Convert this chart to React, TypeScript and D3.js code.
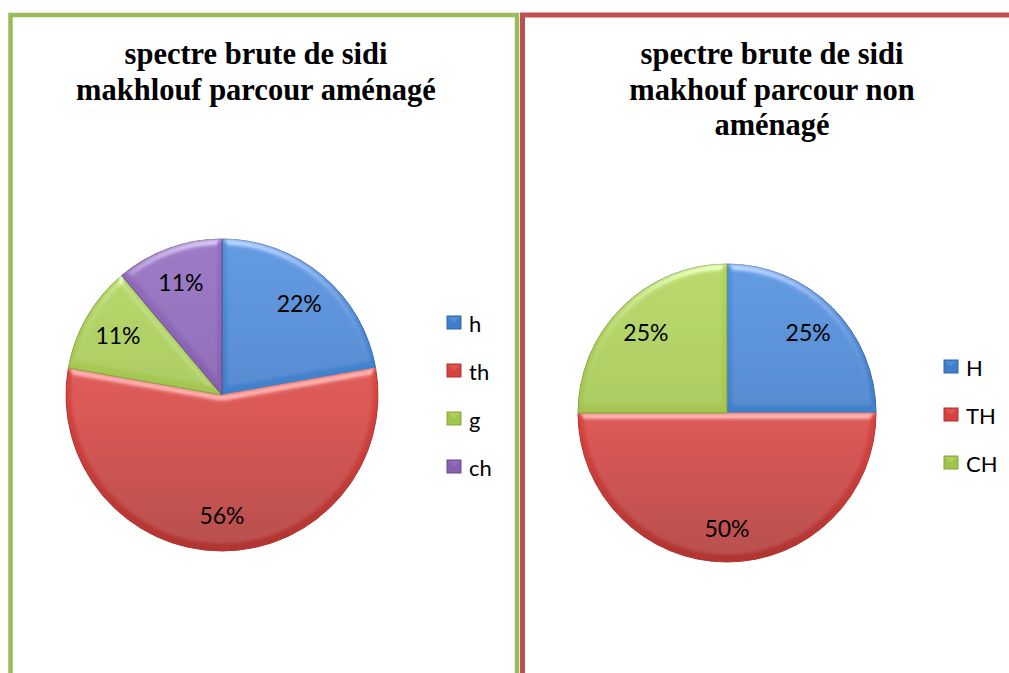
import React from 'react';
import * as d3 from 'd3';

// left chart: "parcour aménagé"
const leftTitle = ['spectre brute de sidi', 'makhlouf parcour aménagé'];
const leftCategories = ['h', 'th', 'g', 'ch'];
const leftValues = [2, 5, 1, 1];

// right chart: "parcour non aménagé"
const rightTitle = ['spectre brute de sidi', 'makhouf parcour non', 'aménagé'];
const rightCategories = ['H', 'TH', 'CH'];
const rightValues = [1, 2, 1];

// office 2007 palette (light / base / dark)
const palette = {
  blue: ['#5092dc', '#3f7ec8', '#3466a6'],
  red: ['#e25754', '#d4433f', '#b03432'],
  green: ['#b2d45e', '#a2c44f', '#86a63e'],
  purple: ['#946ec0', '#8460ae', '#6a4c90'],
};
const leftColors = ['blue', 'red', 'green', 'purple'];
const rightColors = ['blue', 'red', 'green'];

const titleFont = '"Liberation Serif", "Times New Roman", serif';
const bodyFont = 'Lato, "Open Sans", sans-serif';

type PieProps = {
  id: string;
  cx: number;
  cy: number;
  r: number;
  values: number[];
  colors: string[];
};

const Pie = ({ id, cx, cy, r, values, colors }: PieProps) => {
  const total = d3.sum(values);
  const arcs = d3.pie<number>().sort(null).value((d) => d)(values);
  const arc = d3.arc<d3.PieArcDatum<number>>().innerRadius(0).outerRadius(r);
  const labelArc = d3.arc<d3.PieArcDatum<number>>().innerRadius(r * 0.77).outerRadius(r * 0.77);
  const fmt = d3.format('.0%');

  return (
    <g transform={`translate(${cx},${cy})`}>
      <defs>
        {colors.map((c) => {
          const [light, base, dark] = palette[c as keyof typeof palette];
          return (
            <linearGradient key={c} id={`${id}-${c}`} gradientUnits="userSpaceOnUse" x1={0} y1={-r} x2={0} y2={r}>
              <stop offset="0%" stopColor={light} />
              <stop offset="55%" stopColor={base} />
              <stop offset="100%" stopColor={dark} />
            </linearGradient>
          );
        })}
        {/* soft bevel like excel 2007 */}
        <filter id={`${id}-bevel`} x="-5%" y="-5%" width="110%" height="110%">
          <feGaussianBlur in="SourceAlpha" stdDeviation={3.5} result="blur" />
          <feSpecularLighting
            in="blur"
            surfaceScale={4}
            specularConstant={0.55}
            specularExponent={18}
            lightingColor="#ffffff"
            result="spec"
          >
            <feDistantLight azimuth={270} elevation={35} />
          </feSpecularLighting>
          <feComposite in="spec" in2="SourceAlpha" operator="in" result="specIn" />
          <feComposite in="SourceGraphic" in2="specIn" operator="arithmetic" k1={0} k2={1} k3={0.7} k4={0} />
        </filter>
      </defs>
      {arcs.map((a, i) => (
        <path
          key={i}
          d={arc(a) || ''}
          fill={`url(#${id}-${colors[i]})`}
          stroke={palette[colors[i] as keyof typeof palette][2]}
          strokeWidth={1}
          filter={`url(#${id}-bevel)`}
        />
      ))}
      {arcs.map((a, i) => {
        const [x, y] = labelArc.centroid(a);
        return (
          <text
            key={i}
            x={x}
            y={y}
            textAnchor="middle"
            dominantBaseline="central"
            fontFamily={bodyFont}
            fontSize={23}
            fill="#000"
          >
            {fmt(a.data / total)}
          </text>
        );
      })}
    </g>
  );
};

type LegendProps = {
  x: number;
  y: number;
  items: string[];
  colors: string[];
};

const Legend = ({ x, y, items, colors }: LegendProps) => {
  const yScale = d3.scalePoint<string>().domain(items).range([0, (items.length - 1) * 48]);
  return (
    <g transform={`translate(${x},${y})`}>
      {items.map((d, i) => {
        const [light, base, dark] = palette[colors[i] as keyof typeof palette];
        const yy = yScale(d) || 0;
        return (
          <g key={d} transform={`translate(0,${yy})`}>
            <rect x={0} y={-7} width={14} height={13} fill={base} stroke={dark} strokeWidth={1} />
            <path d="M1,-6 L13,-6 L7,0 Z" fill={light} opacity={0.8} />
            <text x={22} y={0} dominantBaseline="central" fontFamily={bodyFont} fontSize={22} fill="#000">
              {d}
            </text>
          </g>
        );
      })}
    </g>
  );
};

const Title = ({ cx, lines }: { cx: number; lines: string[] }) => (
  <text textAnchor="middle" fontFamily={titleFont} fontWeight="bold" fontSize={30.5} fill="#000">
    {lines.map((l, i) => (
      <tspan key={i} x={cx} y={64 + i * 35.5}>
        {l}
      </tspan>
    ))}
  </text>
);

export default function App() {
  return (
    <div style={{ position: 'fixed', left: 0, top: 0, width: 1009, height: 673, background: '#fff' }}>
      <svg width={1009} height={673} style={{ display: 'block' }}>
        <rect x={0} y={0} width={1009} height={673} fill="#fff" />

        {/* panel frames */}
        <rect x={10.5} y={15} width={506.5} height={700} fill="#fff" stroke="#9bbb59" strokeWidth={4.5} />
        <rect x={522.5} y={15} width={500} height={700} fill="#fff" stroke="#c0504d" strokeWidth={5} />

        <Title cx={256} lines={leftTitle} />
        <Title cx={772} lines={rightTitle} />

        <Pie id="left" cx={222} cy={395} r={156} values={leftValues} colors={leftColors} />
        <Pie id="right" cx={727} cy={413} r={149} values={rightValues} colors={rightColors} />

        <Legend x={447} y={323} items={leftCategories} colors={leftColors} />
        <Legend x={944} y={367} items={rightCategories} colors={rightColors} />
      </svg>
    </div>
  );
}
